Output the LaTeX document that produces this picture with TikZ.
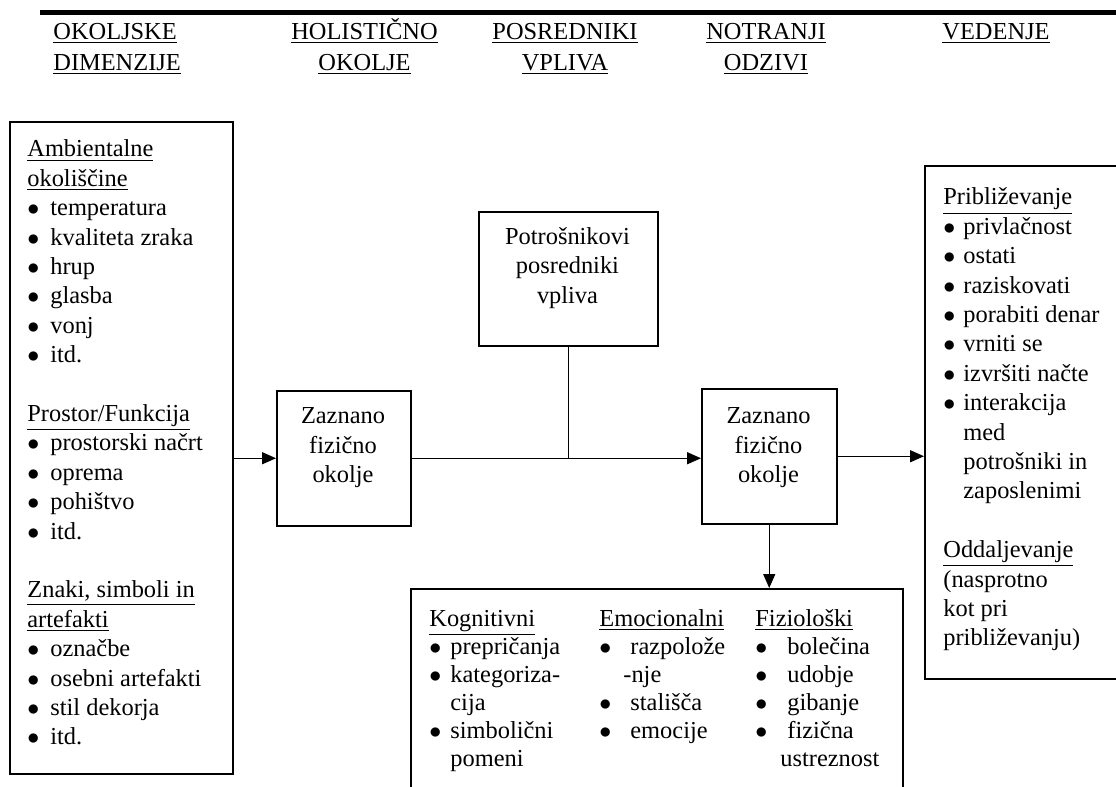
\documentclass[tikz,border=0pt]{standalone}
\usepackage{fontspec}
\setmainfont{Liberation Serif}
\usetikzlibrary{arrows.meta,positioning}
\newcommand{\itm}[1][11.5pt]{\makebox[#1][l]{$\bullet$}}

\begin{document}
\begin{tikzpicture}[x=0.5pt,y=-0.5pt,
  every node/.style={font=\fontsize{12.2}{14.7}\selectfont},
  box/.style={draw,line width=.75pt,inner sep=0pt,anchor=north west},
  txt/.style={anchor=north west,inner sep=0pt,align=left},
  ctxt/.style={anchor=north,inner sep=0pt,align=center},
  hdr/.style={inner sep=0pt,font=\fontsize{12.2}{15.5}\selectfont},
  arr/.style={line width=.75pt,-{Triangle[length=7pt,width=6pt]}}]
\useasboundingbox (0,0) rectangle (1116,787);
\draw[line width=2.5pt] (40,12.5)--(1116,12.5);
% column headings
\node[hdr,txt] (hdr1) at (53,17) {\strut\underline{OKOLJSKE}\\\underline{DIMENZIJE}};
\node[hdr,ctxt] (hdr2) at (364.5,17) {\strut\underline{HOLISTIČNO}\\\underline{OKOLJE}};
\node[hdr,ctxt] (hdr3) at (565,17) {\strut\underline{POSREDNIKI}\\\underline{VPLIVA}};
\node[hdr,ctxt] (hdr4) at (766,17) {\strut\underline{NOTRANJI}\\\underline{ODZIVI}};
\node[hdr,ctxt] (hdr5) at (996,17) {\strut\underline{VEDENJE}};
% boxes
\node[box,minimum width=111.5pt,minimum height=326pt] (lbox) at (9,121) {};
\node[box,minimum width=67pt,minimum height=67.5pt] (zbox1) at (276,390) {};
\node[box,minimum width=89.5pt,minimum height=67pt] (pbox) at (478,211) {};
\node[box,minimum width=67.5pt,minimum height=67.5pt] (zbox2) at (701,388) {};
\node[box,minimum width=246pt,minimum height=106pt] (kbox) at (410,588) {};
\node[box,minimum width=100.5pt,minimum height=256.5pt] (rbox) at (924,165) {};
% box texts
\node[txt] (ltxt) at (27,136) {\strut\underline{Ambientalne}\\\underline{okoliščine}\\
\itm temperatura\\\itm kvaliteta zraka\\\itm hrup\\\itm glasba\\\itm vonj\\\itm itd.\\[14.7pt]
\underline{Prostor/Funkcija}\\\itm prostorski načrt\\\itm oprema\\\itm pohištvo\\\itm itd.\\[14.7pt]
\underline{Znaki, simboli in}\\\underline{artefakti}\\
\itm označbe\\\itm osebni artefakti\\\itm stil dekorja\\\itm itd.};
\node[ctxt] (z1txt) at (343,403) {\strut Zaznano\\fizično\\okolje};
\node[ctxt] (ptxt) at (567.5,223.5) {\strut Potrošnikovi\\posredniki\\vpliva};
\node[ctxt] (z2txt) at (768.5,403) {\strut Zaznano\\fizično\\okolje};
\node[txt] (rtxt) at (943,184) {\strut\underline{Približevanje}\\
\itm[10pt]privlačnost\\\itm[10pt]ostati\\\itm[10pt]raziskovati\\\itm[10pt]porabiti denar\\
\itm[10pt]vrniti se\\\itm[10pt]izvršiti načte\\\itm[10pt]interakcija\\
\hspace*{10pt}med\\\hspace*{10pt}potrošniki in\\\hspace*{10pt}zaposlenimi\\[14.7pt]
\underline{Oddaljevanje}\\(nasprotno\\kot pri\\približevanju)};
\node[txt,font=\fontsize{12.2}{14}\selectfont] (kog) at (429,606.5) {\strut\underline{Kognitivni}\\
\itm[10.5pt]prepričanja\\\itm[10.5pt]kategoriza-\\\hspace*{10.5pt}cija\\
\itm[10.5pt]simbolični\\\hspace*{10.5pt}pomeni};
\node[txt,font=\fontsize{12.2}{14}\selectfont] (emo) at (599,606.5) {\strut\underline{Emocionalni}\\
\itm[15.5pt]razpolože\\\hspace*{12pt}-nje\\\itm[15.5pt]stališča\\\itm[15.5pt]emocije};
\node[txt,font=\fontsize{12.2}{14}\selectfont] (fiz) at (755,606.5) {\strut\underline{Fiziološki}\\
\itm[16pt]bolečina\\\itm[16pt]udobje\\\itm[16pt]gibanje\\\itm[16pt]fizična\\\hspace*{12.5pt}ustreznost};
% connectors
\draw[arr] (lbox.east |- zbox1.west) -- (zbox1.west);
\draw[arr] (zbox1.east) -- (zbox1.east -| zbox2.west);
\draw[line width=.75pt] (pbox.south) -- (pbox.south |- zbox1.east);
\draw[arr] (zbox2.south) -- (zbox2.south |- kbox.north);
\draw[arr] (zbox2.east) -- (zbox2.east -| rbox.west);
\end{tikzpicture}
\end{document}
